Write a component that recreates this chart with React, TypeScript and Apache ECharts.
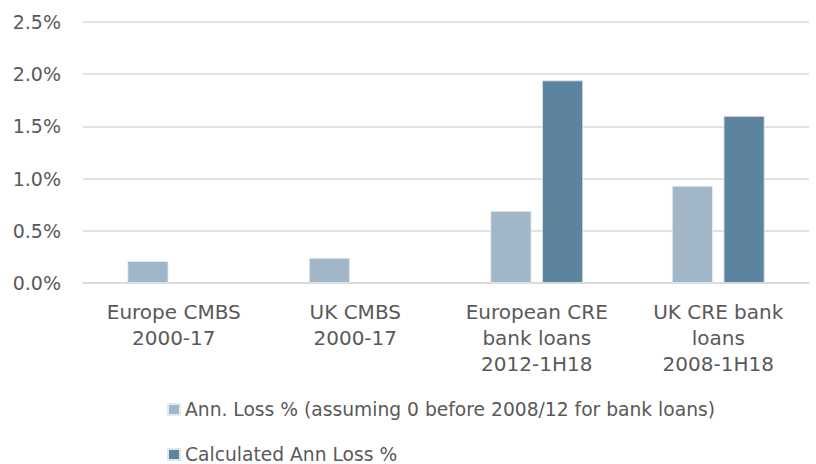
import React, { useEffect, useRef } from "react";
import * as echarts from "echarts";

const categories = [
  "Europe CMBS\n2000-17",
  "UK CMBS\n2000-17",
  "European CRE\nbank loans\n2012-1H18",
  "UK CRE bank\nloans\n2008-1H18",
];
const seriesNames = [
  "Ann. Loss % (assuming 0 before 2008/12 for bank loans)",
  "Calculated Ann Loss %",
];
const annLoss = [0.21, 0.24, 0.69, 0.93];
const calcLoss: (number | null)[] = [null, null, 1.94, 1.6];
const yTicks = { min: 0, max: 2.5, interval: 0.5 };

const FONT = "DejaVu Sans";
const TEXT = "#595959";

const legendBase = {
  orient: "horizontal",
  left: 162,
  itemWidth: 12,
  itemHeight: 11,
  icon: "rect",
  textStyle: { fontFamily: FONT, fontSize: 18.7, color: TEXT },
};

export default function App() {
  const ref = useRef<HTMLDivElement>(null);
  useEffect(() => {
    const chart = echarts.init(ref.current!, null, { renderer: "svg" });
    chart.setOption({
      animation: false,
      backgroundColor: "#ffffff",
      grid: { left: 83, right: 7, top: 22, bottom: 181, containLabel: false },
      legend: [
        { ...legendBase, top: 395, data: [seriesNames[0]] },
        { ...legendBase, top: 440, data: [seriesNames[1]] },
      ],
      xAxis: {
        type: "category",
        data: categories,
        axisLine: { lineStyle: { color: "#d9d9d9", width: 1.5 } },
        axisTick: { show: false },
        axisLabel: {
          fontFamily: FONT,
          fontSize: 20,
          color: TEXT,
          lineHeight: 26,
          margin: 16,
          interval: 0,
        },
      },
      yAxis: {
        type: "value",
        min: yTicks.min,
        max: yTicks.max,
        interval: yTicks.interval,
        axisLine: { show: false },
        axisTick: { show: false },
        splitLine: { lineStyle: { color: "#d9d9d9", width: 1.5 } },
        axisLabel: {
          fontFamily: FONT,
          fontSize: 19,
          color: TEXT,
          margin: 22,
          formatter: (v: number) => v.toFixed(1) + "%",
        },
      },
      series: [
        {
          name: seriesNames[0],
          type: "bar",
          data: annLoss,
          barWidth: 41,
          barGap: "26%",
          itemStyle: { color: "#a1b6c6", borderColor: "#e4ebf0", borderWidth: 0.8 },
        },
        {
          name: seriesNames[1],
          type: "bar",
          data: calcLoss,
          barWidth: 41,
          barGap: "26%",
          itemStyle: { color: "#5d849e", borderColor: "#dfe7ed", borderWidth: 0.8 },
        },
      ],
    });
    return () => chart.dispose();
  }, []);
  return (
    <div
      ref={ref}
      style={{ position: "fixed", left: 0, top: 0, width: 816, height: 464 }}
    />
  );
}
